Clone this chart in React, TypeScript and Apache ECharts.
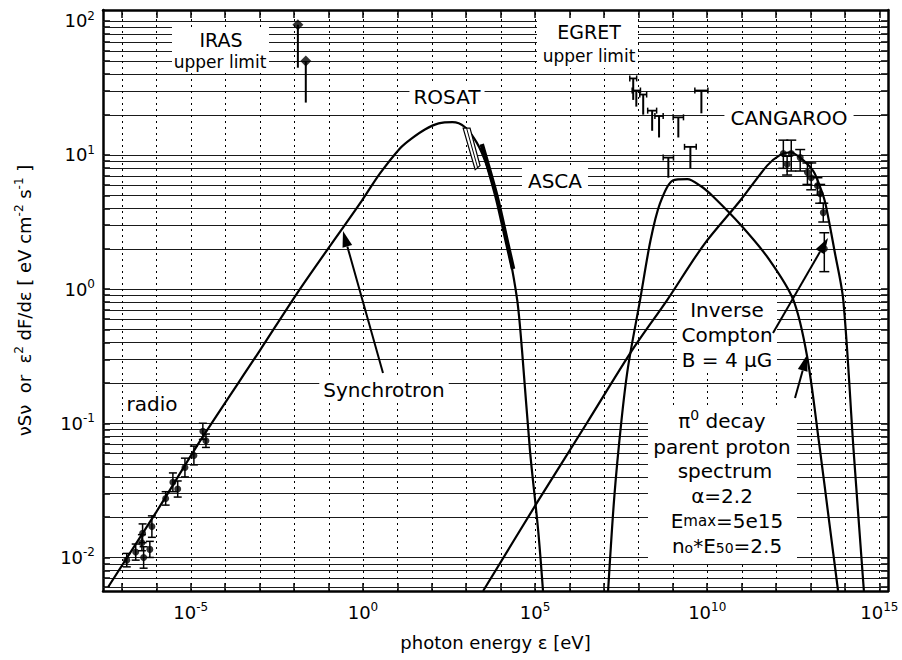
import React, { useEffect, useRef } from "react";
import * as echarts from "echarts";

const FONT = '"DejaVu Sans", Verdana, sans-serif';

// axis extents in log10 units
const X_MIN = -7.55;
const X_MAX = 15.25;
const Y_MIN = -2.25;
const Y_MAX = 2.08;

// tick labels (exponents of 10)
const xTickLabels = [-5, 0, 5, 10, 15];
const yTickLabels = [-2, -1, 0, 1, 2];
const xDecades = [-7, -6, -5, -4, -3, -2, -1, 0, 1, 2, 3, 4, 5, 6, 7, 8, 9, 10, 11, 12, 13, 14, 15];
const yDecades = [-3, -2, -1, 0, 1, 2];
const yMultipliers = [1, 2, 3, 4, 5, 6, 7, 8, 9];

// curves: [log10 photon energy (eV), log10 flux]
const synchrotronCurve = [
  [-7.4, -2.22], [-6.0, -1.66], [-4.65, -1.1], [-3.0, -0.46], [-1.83, 0.0],
  [-0.03, 0.66], [0.49, 0.86], [1.08, 1.05], [1.4, 1.12], [1.8, 1.19], [2.2, 1.235],
  [2.6, 1.245], [2.95, 1.21], [3.31, 1.09], [3.6, 0.92], [3.9, 0.66],
  [4.19, 0.34], [4.48, -0.08], [4.62, -0.455], [4.85, -1.2], [5.09, -1.8], [5.23, -2.25],
];
const inverseComptonCurve = [
  [3.49, -2.25], [5.06, -1.59], [6.5, -1.0], [7.82, -0.455], [8.84, -0.08],
  [9.9, 0.33], [10.96, 0.66], [11.74, 0.92], [12.12, 1.0], [12.41, 1.02],
  [12.7, 0.98], [13.08, 0.88], [13.28, 0.76], [13.43, 0.64], [13.7, 0.28],
  [13.95, -0.08], [14.25, -1.2], [14.55, -2.25],
];
const pi0DecayCurve = [
  [7.12, -2.25], [7.3, -1.55], [7.5, -1.0], [7.7, -0.58], [8.05, -0.08],
  [8.35, 0.36], [8.63, 0.64], [9.0, 0.81], [9.42, 0.82], [9.8, 0.77],
  [10.17, 0.69], [11.0, 0.47], [11.8, 0.22], [12.5, -0.08], [12.9, -0.5],
  [13.25, -1.15], [13.55, -1.75], [13.8, -2.25],
];
const ascaSegment = [[3.45, 1.08], [3.62, 0.93], [3.9, 0.67], [4.2, 0.33], [4.36, 0.15]];
const rosatBand = [[2.91, 1.2], [3.11, 1.2], [3.4, 0.92], [3.26, 0.89]];

// data points: [log E, log flux, error (log)]
const radioPoints = [
  [-4.65, -1.06, 0.06], [-4.56, -1.13, 0.05], [-4.91, -1.24, 0.07], [-5.17, -1.33, 0.07],
  [-5.52, -1.44, 0.07], [-5.38, -1.49, 0.06], [-5.73, -1.56, 0.05], [-6.13, -1.77, 0.08],
  [-6.4, -1.82, 0.07], [-6.42, -1.89, 0.06], [-6.6, -1.96, 0.06], [-6.86, -2.02, 0.05],
  [-6.37, -2.0, 0.08], [-6.19, -1.94, 0.06],
];
// IRAS upper limits: [log E, log flux, lower end of arrow line]
const irasLimits = [[-1.89, 1.97, 1.65], [-1.66, 1.7, 1.39]];
// EGRET: [log E, top, bottom, half bin width]
const egretPoints = [
  [7.85, 1.57, 1.41, 0.1], [7.94, 1.48, 1.36, 0.12], [8.14, 1.45, 1.3, 0.1],
  [8.4, 1.33, 1.18, 0.13], [8.6, 1.29, 1.13, 0.12], [9.16, 1.28, 1.13, 0.15],
  [8.87, 0.98, 0.83, 0.15], [9.51, 1.06, 0.9, 0.17], [9.83, 1.48, 1.31, 0.19],
];
// CANGAROO: [log E, log flux, low, high]
const cangarooPoints = [
  [12.21, 1.01, 0.9, 1.11], [12.44, 1.01, 0.88, 1.11], [12.32, 0.93, 0.85, 0.99],
  [12.7, 0.98, 0.88, 1.04], [12.91, 0.87, 0.78, 0.94], [13.02, 0.83, 0.74, 0.94],
  [13.2, 0.77, 0.7, 0.83], [13.28, 0.71, 0.64, 0.78], [13.37, 0.57, 0.5, 0.64],
  [13.4, 0.3, 0.13, 0.42],
];

const yGrid: number[] = [];
yDecades.forEach((k) =>
  yMultipliers.forEach((m) => {
    const v = k + Math.log10(m);
    if (v > Y_MIN && v < Y_MAX) yGrid.push(v);
  })
);

const supFmt = (v: number) => `{b|10}{s|${v}}`;
const tickRich = {
  b: { fontSize: 18, fontFamily: FONT, color: "#000" },
  s: { fontSize: 12, fontFamily: FONT, color: "#000", padding: [0, 0, 10, 0] },
};

function arrow(x1: number, y1: number, x2: number, y2: number) {
  const dx = x2 - x1, dy = y2 - y1;
  const len = Math.sqrt(dx * dx + dy * dy);
  const ux = dx / len, uy = dy / len;
  const hl = 16, hw = 5;
  const bx = x2 - ux * hl, by = y2 - uy * hl;
  return [
    { type: "line", z: 30, shape: { x1, y1, x2: bx, y2: by }, style: { stroke: "#000", lineWidth: 2 } },
    {
      type: "polygon", z: 30,
      shape: { points: [[x2, y2], [bx - uy * hw, by + ux * hw], [bx + uy * hw, by - ux * hw]] },
      style: { fill: "#000" },
    },
  ];
}

function txt(text: string, x: number, y: number, size: number, extra: any = {}) {
  return {
    type: "text", x, y, z: 25,
    style: {
      text, fill: "#000", fontSize: size, fontFamily: FONT,
      align: "center", verticalAlign: "middle", textAlign: "center", textVerticalAlign: "middle",
      ...extra,
    },
  };
}
const box = (x: number, y: number, w: number, h: number) => ({
  type: "rect", z: 20, shape: { x, y, width: w, height: h }, style: { fill: "#fff" },
});

const seg = (a: number[], b: number[], w: number) => ({
  type: "line", shape: { x1: a[0], y1: a[1], x2: b[0], y2: b[1] }, style: { stroke: "#000", lineWidth: w },
});

export default function App() {
  const ref = useRef<HTMLDivElement>(null);
  useEffect(() => {
    document.body.style.margin = "0";
    const chart = echarts.init(ref.current!, null, { renderer: "svg" });
    const curve = (name: string, data: number[][], w = 2.2) => ({
      type: "line", name, data, showSymbol: false, smooth: 0.3, z: 5, silent: true,
      lineStyle: { color: "#000", width: w },
    });
    const errBars = (name: string, data: number[][], cap: number) => ({
      type: "custom", name, z: 6, silent: true, data,
      renderItem: (_p: any, api: any) => {
        const x = api.value(0);
        const a = api.coord([x, api.value(2)]);
        const b = api.coord([x, api.value(3)]);
        return {
          type: "group",
          children: [
            seg(a, b, 1.5),
            seg([a[0] - cap, a[1]], [a[0] + cap, a[1]], 1.5),
            seg([b[0] - cap, b[1]], [b[0] + cap, b[1]], 1.5),
          ],
        };
      },
    });
    const radioErr = radioPoints.map((p) => [p[0], p[1], p[1] - p[2], p[1] + p[2]]);

    chart.setOption({
      animation: false,
      backgroundColor: "#fff",
      grid: { left: 103, top: 10, right: 14, bottom: 69, outerBoundsMode: "none" },
      xAxis: [
        {
          type: "value", min: X_MIN, max: X_MAX, position: "bottom",
          axisLine: { show: true, onZero: false, lineStyle: { color: "#000", width: 2.5 } },
          axisTick: { show: true, inside: true, length: 8, customValues: xDecades, lineStyle: { color: "#000", width: 1.5 } },
          axisLabel: { customValues: xTickLabels, formatter: supFmt, rich: tickRich, margin: 10 },
          splitLine: { show: false },
          name: "photon energy ε [eV]", nameLocation: "middle", nameGap: 42,
          nameTextStyle: { fontSize: 18, fontFamily: FONT, color: "#000" },
        },
        {
          type: "value", min: X_MIN, max: X_MAX, position: "top",
          axisLine: { show: true, onZero: false, lineStyle: { color: "#000", width: 2.5 } },
          axisTick: { show: true, inside: true, length: 8, customValues: xDecades, lineStyle: { color: "#000", width: 1.5 } },
          axisLabel: { show: false }, splitLine: { show: false },
        },
      ],
      yAxis: [
        {
          type: "value", min: Y_MIN, max: Y_MAX, position: "left",
          axisLine: { show: true, onZero: false, lineStyle: { color: "#000", width: 2.5 } },
          axisTick: { show: true, inside: true, length: 7, customValues: yGrid, lineStyle: { color: "#000", width: 1.5 } },
          axisLabel: { customValues: yTickLabels, formatter: supFmt, rich: tickRich, margin: 8 },
          splitLine: { show: false },
          name: "{t|νSν  or  ε}{s|2}{t| dF/dε [ eV cm}{s|-2}{t| s}{s|-1}{t| ]}",
          nameLocation: "middle", nameRotate: 90, nameGap: 68,
          nameTextStyle: {
            rich: {
              t: { fontSize: 18, fontFamily: FONT, color: "#000" },
              s: { fontSize: 12, fontFamily: FONT, color: "#000", padding: [0, 0, 10, 0] },
            },
          },
        },
        {
          type: "value", min: Y_MIN, max: Y_MAX, position: "right",
          axisLine: { show: true, onZero: false, lineStyle: { color: "#000", width: 2.5 } },
          axisTick: { show: true, inside: true, length: 7, customValues: yGrid, lineStyle: { color: "#000", width: 1.5 } },
          axisLabel: { show: false }, splitLine: { show: false },
        },
      ],
      series: [
        {
          type: "custom", name: "hgrid", silent: true, z: 1,
          data: yGrid.map((v) => [X_MIN, v]),
          renderItem: (_p: any, api: any) => {
            const v = api.value(1);
            const a = api.coord([X_MIN, v]);
            const b = api.coord([X_MAX, v]);
            const y = Math.round(a[1]) + 0.5;
            return {
              type: "line", shape: { x1: a[0], y1: y, x2: b[0], y2: y },
              style: { stroke: "#1a1a1a", lineWidth: 1 },
            };
          },
        },
        {
          type: "custom", name: "vgrid", silent: true, z: 1,
          data: xDecades.map((v) => [v, Y_MIN]),
          renderItem: (_p: any, api: any) => {
            const v = api.value(0);
            const a = api.coord([v, Y_MIN]);
            const b = api.coord([v, Y_MAX]);
            const x = Math.round(a[0]) + 0.5;
            return {
              type: "line", shape: { x1: x, y1: a[1], x2: x, y2: b[1] },
              style: { stroke: "#000", lineWidth: 1, lineDash: [2, 4] },
            };
          },
        },
        curve("Synchrotron", synchrotronCurve),
        curve("Inverse Compton", inverseComptonCurve),
        curve("π0 decay", pi0DecayCurve),
        curve("ASCA", ascaSegment, 4.5),
        {
          type: "custom", name: "ROSAT", silent: true, z: 6, data: [[rosatBand[0][0], rosatBand[0][1]]],
          renderItem: (_p: any, api: any) => {
            const pts = rosatBand.map((p) => api.coord(p));
            const m1 = api.coord([(rosatBand[0][0] + rosatBand[1][0]) / 2, rosatBand[0][1]]);
            const m2 = api.coord([(rosatBand[2][0] + rosatBand[3][0]) / 2, (rosatBand[2][1] + rosatBand[3][1]) / 2]);
            return {
              type: "group",
              children: [
                { type: "polygon", shape: { points: pts }, style: { fill: "#fff", stroke: "#000", lineWidth: 1.2 } },
                seg(m1, m2, 1),
              ],
            };
          },
        },
        errBars("radio err", radioErr, 4),
        {
          type: "scatter", name: "radio", data: radioPoints.map((p) => [p[0], p[1]]), z: 7, silent: true,
          symbol: "circle", symbolSize: 7, itemStyle: { color: "#000" },
        },
        {
          type: "custom", name: "IRAS lines", silent: true, z: 6, data: irasLimits,
          renderItem: (_p: any, api: any) => {
            const x = api.value(0);
            return seg(api.coord([x, api.value(1)]), api.coord([x, api.value(2)]), 2) as any;
          },
        },
        {
          type: "scatter", name: "IRAS", data: irasLimits.map((p) => [p[0], p[1]]), z: 7, silent: true,
          symbol: "diamond", symbolSize: 11, itemStyle: { color: "#000" },
        },
        {
          type: "custom", name: "EGRET", silent: true, z: 6, data: egretPoints,
          renderItem: (_p: any, api: any) => {
            const x = api.value(0), top = api.value(1), bot = api.value(2), hw = api.value(3);
            const l = api.coord([x - hw, top]);
            const r = api.coord([x + hw, top]);
            const t = api.coord([x, top]);
            const b = api.coord([x, bot]);
            return {
              type: "group",
              children: [
                seg(l, r, 1.8),
                seg([l[0], l[1] - 3], [l[0], l[1] + 3], 1.5),
                seg([r[0], r[1] - 3], [r[0], r[1] + 3], 1.5),
                seg(t, b, 2),
              ],
            };
          },
        },
        errBars("CANGAROO err", cangarooPoints, 5),
        {
          type: "scatter", name: "CANGAROO", data: cangarooPoints.map((p) => [p[0], p[1]]), z: 7, silent: true,
          symbol: "circle", symbolSize: 7, itemStyle: { color: "#000" },
        },
      ],
      graphic: [
        box(172, 27, 97, 43),
        txt("IRAS", 221, 40, 19),
        txt("upper limit", 220, 62, 17),
        box(537, 18, 101, 50),
        txt("EGRET", 589, 32, 19),
        txt("upper limit", 589, 56, 17),
        txt("ROSAT", 447, 97, 20, { backgroundColor: "#fff", padding: [2, 4] }),
        txt("ASCA", 555, 181, 20, { backgroundColor: "#fff", padding: [3, 6] }),
        txt("CANGAROO", 789, 118, 20, { backgroundColor: "#fff", padding: [3, 6] }),
        txt("Synchrotron", 384, 390, 20, { backgroundColor: "#fff", padding: [3, 4] }),
        txt("radio", 152, 404, 20, { backgroundColor: "#fff", padding: [2, 3] }),
        box(677, 297, 100, 75),
        txt("Inverse", 727, 310, 20),
        txt("Compton", 727, 335, 20),
        txt("B = 4 μG", 727, 360, 20),
        box(648, 405, 149, 156),
        txt("π{s|0} decay", 722, 421, 20, {
          rich: { s: { fontSize: 14, fontFamily: FONT, padding: [0, 0, 12, 0] } },
        }),
        txt("parent proton", 722, 447, 20),
        txt("spectrum", 725, 471, 20),
        txt("α=2.2", 722, 496, 20),
        txt("E{m|max}=5e15", 727, 521, 20, { rich: { m: { fontSize: 15, fontFamily: FONT } } }),
        txt("n{m|o}*E{m|50}=2.5", 727, 546, 20, {
          rich: { m: { fontSize: 14, fontFamily: FONT, padding: [4, 0, 0, 0] } },
        }),
        ...arrow(383, 373, 343, 231),
        ...arrow(773, 333, 828, 238),
        ...arrow(795, 398, 807, 355),
      ],
    });
    return () => chart.dispose();
  }, []);
  return <div ref={ref} style={{ width: 902, height: 660 }} />;
}
